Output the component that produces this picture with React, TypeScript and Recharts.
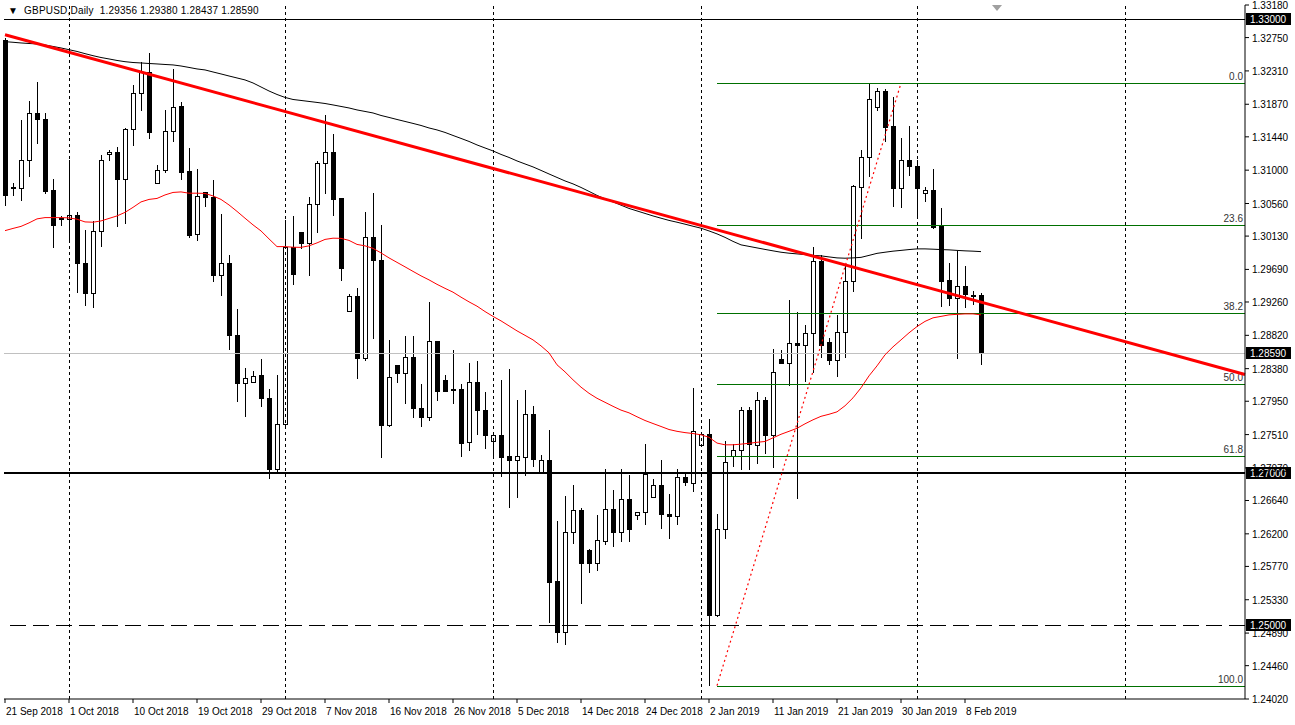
import React from 'react';
import { ComposedChart, Bar, Line, XAxis, YAxis, ReferenceLine } from 'recharts';

// GBPUSD daily candles, one per trading slot (Sunday bars included)
const opens = [
  1.3272, 1.3078, 1.3076, 1.3114, 1.3176, 1.3168, 1.3074, 1.3037, 1.3035, 1.3041,
  1.2978, 1.2938, 1.3020, 1.3121, 1.3124, 1.3089, 1.3154, 1.3202, 1.3230, 1.3083,
  1.3100, 1.3152, 1.3185, 1.3099, 1.3016, 1.3071, 1.3065, 1.2962, 1.2977, 1.2883,
  1.2819, 1.2821, 1.2829, 1.2799, 1.2706, 1.2765, 1.2999, 1.3019, 1.3004, 1.3055,
  1.3110, 1.3124, 1.3063, 1.2914, 1.2934, 1.2852, 1.3012, 1.2981, 1.2763, 1.2843,
  1.2832, 1.2853, 1.2786, 1.2774, 1.2874, 1.2823, 1.2811, 1.2811, 1.2741, 1.2820,
  1.2784, 1.2742, 1.2751, 1.2723, 1.2717, 1.2722, 1.2778, 1.2702, 1.2718, 1.2558,
  1.2490, 1.2622, 1.2652, 1.2599, 1.2582, 1.2611, 1.2653, 1.2623, 1.2666, 1.2645,
  1.2649, 1.2669, 1.2684, 1.2646, 1.2643, 1.2695, 1.2687, 1.2737, 1.2752, 1.2513,
  1.2626, 1.2723, 1.2730, 1.2783, 1.2737, 1.2797, 1.2750, 1.2851, 1.2845, 1.2872,
  1.2869, 1.2885, 1.2980, 1.2873, 1.2850, 1.2887, 1.2954, 1.3078, 1.3117, 1.3183,
  1.3205, 1.3158, 1.3077, 1.3114, 1.3106, 1.3070, 1.3074, 1.3026, 1.2955, 1.2931,
  1.2947, 1.2935, 1.29356,
];
const highs = [
  1.3275, 1.3083, 1.3166, 1.3191, 1.3216, 1.3175, 1.3088, 1.3039, 1.3113, 1.3045,
  1.3021, 1.3033, 1.3120, 1.3127, 1.3131, 1.3155, 1.3213, 1.3243, 1.3254, 1.3107,
  1.3180, 1.3234, 1.3190, 1.3129, 1.3102, 1.3071, 1.3087, 1.3042, 1.2988, 1.2917,
  1.2839, 1.2835, 1.2851, 1.2811, 1.2829, 1.3034, 1.3039, 1.3019, 1.3065, 1.3112,
  1.3173, 1.3148, 1.3063, 1.2937, 1.2944, 1.3045, 1.3070, 1.3028, 1.2876, 1.2843,
  1.2881, 1.2881, 1.2818, 1.2926, 1.2874, 1.2830, 1.2862, 1.2818, 1.2845, 1.2848,
  1.2807, 1.2751, 1.2823, 1.2837, 1.2797, 1.2810, 1.2789, 1.2724, 1.2757, 1.2637,
  1.2670, 1.2685, 1.2654, 1.2600, 1.2645, 1.2705, 1.2678, 1.2705, 1.2697, 1.2649,
  1.2738, 1.2693, 1.2718, 1.2673, 1.2705, 1.2702, 1.2812, 1.2752, 1.2771, 1.2646,
  1.2743, 1.2738, 1.2788, 1.2788, 1.2807, 1.2800, 1.2864, 1.2862, 1.2928, 1.2913,
  1.2895, 1.2999, 1.2988, 1.2878, 1.2909, 1.2973, 1.3080, 1.3126, 1.3215, 1.3208,
  1.3207, 1.3197, 1.3142, 1.3158, 1.3114, 1.3078, 1.3102, 1.3050, 1.2978, 1.2993,
  1.2974, 1.2940, 1.29380,
];
const lows = [
  1.3054, 1.3067, 1.3061, 1.3092, 1.3136, 1.3070, 1.2998, 1.3027, 1.3007, 1.2939,
  1.2922, 1.2920, 1.3000, 1.3114, 1.3026, 1.3030, 1.3133, 1.3179, 1.3143, 1.3083,
  1.3098, 1.3138, 1.3089, 1.3012, 1.3008, 1.3053, 1.2954, 1.2935, 1.2864, 1.2795,
  1.2775, 1.2820, 1.2789, 1.2694, 1.2700, 1.2764, 1.2950, 1.2997, 1.2961, 1.3018,
  1.3070, 1.3041, 1.2955, 1.2914, 1.2826, 1.2850, 1.2879, 1.2721, 1.2762, 1.2821,
  1.2793, 1.2774, 1.2762, 1.2770, 1.2796, 1.2808, 1.2793, 1.2723, 1.2730, 1.2752,
  1.2733, 1.2722, 1.2696, 1.2656, 1.2669, 1.2697, 1.2709, 1.2701, 1.2504, 1.2477,
  1.2475, 1.2608, 1.2529, 1.2570, 1.2572, 1.2607, 1.2604, 1.2611, 1.2611, 1.2639,
  1.2633, 1.2668, 1.2628, 1.2614, 1.2633, 1.2685, 1.2677, 1.2737, 1.2420, 1.2512,
  1.2614, 1.2709, 1.2705, 1.2706, 1.2713, 1.2727, 1.2708, 1.2845, 1.2816, 1.2667,
  1.2822, 1.2833, 1.2854, 1.2844, 1.2828, 1.2853, 1.2940, 1.3010, 1.3092, 1.3180,
  1.3138, 1.3053, 1.3052, 1.3094, 1.3039, 1.3059, 1.3024, 1.2921, 1.2922, 1.2852,
  1.2919, 1.2923, 1.28437,
];
const closes = [
  1.3067, 1.3077, 1.3114, 1.3176, 1.3167, 1.3073, 1.3027, 1.3035, 1.3041, 1.2977,
  1.2938, 1.3020, 1.3114, 1.3124, 1.3089, 1.3154, 1.3202, 1.3230, 1.3150, 1.3100,
  1.3152, 1.3184, 1.3098, 1.3015, 1.3066, 1.3064, 1.2962, 1.2977, 1.2882, 1.2819,
  1.2826, 1.2828, 1.2799, 1.2706, 1.2765, 1.2999, 1.2963, 1.3004, 1.3055, 1.3110,
  1.3124, 1.3062, 1.2971, 1.2934, 1.2852, 1.3012, 1.2981, 1.2763, 1.2827, 1.2832,
  1.2853, 1.2786, 1.2774, 1.2874, 1.2809, 1.2809, 1.2810, 1.2740, 1.2820, 1.2783,
  1.2751, 1.2751, 1.2722, 1.2717, 1.2723, 1.2778, 1.2719, 1.2717, 1.2557, 1.2490,
  1.2622, 1.2652, 1.2582, 1.2581, 1.2612, 1.2653, 1.2623, 1.2666, 1.2626, 1.2649,
  1.2699, 1.2684, 1.2646, 1.2643, 1.2695, 1.2688, 1.2756, 1.2752, 1.2513, 1.2626,
  1.2715, 1.2730, 1.2783, 1.2738, 1.2796, 1.2750, 1.2834, 1.2845, 1.2872, 1.2869,
  1.2885, 1.2980, 1.2869, 1.2849, 1.2887, 1.2954, 1.3079, 1.3117, 1.3194, 1.3205,
  1.3157, 1.3077, 1.3114, 1.3105, 1.3077, 1.3074, 1.3025, 1.2954, 1.2931, 1.2947,
  1.2936, 1.2934, 1.28590,
];

// thin red moving average
const maRed = [
  1.30202, 1.30231, 1.30258, 1.30304, 1.30357, 1.30374, 1.30374, 1.30374, 1.30370, 1.30353,
  1.30317, 1.30313, 1.30330, 1.30363, 1.30396, 1.30443, 1.30509, 1.30581, 1.30614, 1.30627,
  1.30673, 1.30706, 1.30713, 1.30696, 1.30696, 1.30693, 1.30660, 1.30614, 1.30541, 1.30456,
  1.30366, 1.30278, 1.30198, 1.30093, 1.29991, 1.29991, 1.29983, 1.29981, 1.30001, 1.30040,
  1.30086, 1.30102, 1.30100, 1.30073, 1.30020, 1.30001, 1.29968, 1.29908, 1.29842, 1.29783,
  1.29724, 1.29664, 1.29605, 1.29552, 1.29493, 1.29440, 1.29390, 1.29324, 1.29262, 1.29205,
  1.29134, 1.29070, 1.29011, 1.28945, 1.28879, 1.28820, 1.28760, 1.28681, 1.28589, 1.28431,
  1.28338, 1.28233, 1.28136, 1.28055, 1.27989, 1.27936, 1.27883, 1.27833, 1.27797, 1.27745,
  1.27696, 1.27656, 1.27617, 1.27577, 1.27553, 1.27536, 1.27524, 1.27507, 1.27474, 1.27398,
  1.27375, 1.27375, 1.27384, 1.27395, 1.27408, 1.27419, 1.27467, 1.27514, 1.27553, 1.27593,
  1.27652, 1.27705, 1.27751, 1.27778, 1.27810, 1.27890, 1.27995, 1.28127, 1.28285, 1.28417,
  1.28563, 1.28668, 1.28760, 1.28853, 1.28936, 1.29004, 1.29051, 1.29070, 1.29090, 1.29097,
  1.29103, 1.29103, 1.29090,
];

// thin black moving average
const maBlack = [
  1.32696, 1.32688, 1.32679, 1.32672, 1.32666, 1.32652, 1.32633, 1.32613, 1.32590, 1.32567,
  1.32538, 1.32511, 1.32487, 1.32468, 1.32448, 1.32432, 1.32421, 1.32415, 1.32408, 1.32402,
  1.32395, 1.32389, 1.32375, 1.32356, 1.32336, 1.32323, 1.32296, 1.32270, 1.32243, 1.32217,
  1.32191, 1.32151, 1.32098, 1.32045, 1.31999, 1.31960, 1.31933, 1.31920, 1.31907, 1.31894,
  1.31880, 1.31861, 1.31841, 1.31821, 1.31795, 1.31775, 1.31755, 1.31722, 1.31696, 1.31669,
  1.31643, 1.31617, 1.31590, 1.31557, 1.31531, 1.31498, 1.31458, 1.31419, 1.31379, 1.31333,
  1.31293, 1.31254, 1.31208, 1.31168, 1.31122, 1.31082, 1.31043, 1.30997, 1.30950, 1.30904,
  1.30858, 1.30819, 1.30772, 1.30720, 1.30667, 1.30621, 1.30581, 1.30538, 1.30495, 1.30462,
  1.30429, 1.30396, 1.30366, 1.30337, 1.30313, 1.30287, 1.30260, 1.30234, 1.30198, 1.30159,
  1.30113, 1.30060, 1.30014, 1.29994, 1.29974, 1.29954, 1.29935, 1.29917, 1.29904, 1.29895,
  1.29886, 1.29875, 1.29869, 1.29855, 1.29842, 1.29838, 1.29842, 1.29849, 1.29875, 1.29902,
  1.29917, 1.29931, 1.29941, 1.29952, 1.29961, 1.29961, 1.29957, 1.29952, 1.29948, 1.29941,
  1.29935, 1.29931, 1.29925,
];

const slotCount = 156; // bars plus empty space on the right
const dateTicks = [0, 8, 16, 24, 32, 40, 48, 56, 64, 72, 80, 88, 96, 104, 112, 120];
const dateLabels = [
  '21 Sep 2018', '1 Oct 2018', '10 Oct 2018', '19 Oct 2018', '29 Oct 2018', '7 Nov 2018',
  '16 Nov 2018', '26 Nov 2018', '5 Dec 2018', '14 Dec 2018', '24 Dec 2018', '2 Jan 2019',
  '11 Jan 2019', '21 Jan 2019', '30 Jan 2019', '8 Feb 2019',
];
const monthSeparators = [8, 35, 61, 87, 114, 140];

const priceTicks = [
  1.3318, 1.3275, 1.3231, 1.3187, 1.3144, 1.31, 1.3056, 1.3013, 1.2969, 1.2926, 1.2882,
  1.2838, 1.2795, 1.2751, 1.2707, 1.2664, 1.262, 1.2577, 1.2533, 1.2489, 1.2446, 1.2402,
];

const trendPoints = [{ i: 0, v: 1.32788 }, { i: 155, v: 1.28303 }];
const fibStart = { i: 89, v: 1.24196 };
const fibEnd = { i: 112, v: 1.32147 };
const fibLevels = [0, 23.6, 38.2, 50, 61.8, 100];

const lastQuote = { o: 1.29356, h: 1.2938, l: 1.28437, c: 1.2859 };
const levelLines = [1.33, 1.27, 1.25];

const FONT = '"Liberation Sans", Arial, sans-serif';

const data = Array.from({ length: slotCount }, (_, i) => {
  const row: any = { i };
  if (i < opens.length) {
    row.o = opens[i];
    row.h = highs[i];
    row.l = lows[i];
    row.c = closes[i];
    row.range = [lows[i], highs[i]];
    row.maRed = maRed[i];
    row.maBlack = maBlack[i];
  }
  const tp = trendPoints.find((p) => p.i === i);
  row.trend = tp ? tp.v : null;
  row.fib = i === fibStart.i ? fibStart.v : i === fibEnd.i ? fibEnd.v : null;
  return row;
});

const Candle = (props: any) => {
  const { x, y, width, height, payload } = props;
  if (!payload || payload.o == null) return null;
  const { o, h, l, c } = payload;
  const ratio = h > l ? height / (h - l) : 0;
  const yAt = (v: number) => Math.round(y + (h - v) * ratio);
  const cx = Math.round(x + width / 2) + 0.5;
  const top = yAt(Math.max(o, c));
  const bot = yAt(Math.min(o, c));
  const bull = c > o;
  return (
    <g>
      <line x1={cx} x2={cx} y1={yAt(h)} y2={yAt(l) + 1} stroke="#000" strokeWidth={1} />
      {bot - top < 1 ? (
        <line x1={cx - 2.5} x2={cx + 2.5} y1={top + 0.5} y2={top + 0.5} stroke="#000" strokeWidth={1} />
      ) : (
        <rect x={cx - 2} y={top + 0.5} width={4} height={bot - top} fill={bull ? '#fff' : '#000'} stroke="#000" strokeWidth={1} />
      )}
    </g>
  );
};

// snap horizontal / vertical guide lines to whole pixels so they stay sharp
const CrispLine = (p: any) => {
  const odd = (p.strokeWidth || 1) % 2 === 1 ? 0.5 : 0;
  const horiz = Math.abs(p.y1 - p.y2) < 0.01;
  const x1 = horiz ? p.x1 : Math.round(p.x1) + odd;
  const x2 = horiz ? p.x2 : Math.round(p.x2) + odd;
  const y1 = horiz ? Math.round(p.y1) + odd : p.y1;
  const y2 = horiz ? Math.round(p.y2) + odd : p.y2;
  return (
    <line x1={x1} x2={x2} y1={y1} y2={y2} stroke={p.stroke} strokeWidth={p.strokeWidth} strokeDasharray={p.strokeDasharray} />
  );
};

const PriceTick = ({ x, y, payload }: any) => (
  <text x={x} y={y} dy={4} fontSize={10} fontFamily={FONT} fill="#000" textAnchor="start">
    {Number(payload.value).toFixed(5)}
  </text>
);

const DateTick = ({ x, y, payload }: any) => {
  const k = dateTicks.indexOf(payload.value);
  return (
    <text x={x + 1} y={y} dy={10} fontSize={10} fontFamily={FONT} fill="#000" textAnchor="start">
      {k >= 0 ? dateLabels[k] : ''}
    </text>
  );
};

const priceBox = (value: number) => (props: any) => {
  const vb = props.viewBox || {};
  const xr = vb.x + vb.width;
  return (
    <g>
      <rect x={xr + 1} y={Math.round(vb.y) - 6} width={45} height={12} fill="#000" />
      <text x={xr + 5} y={Math.round(vb.y) + 4} fontSize={10} fontFamily={FONT} fill="#fff">
        {value.toFixed(5)}
      </text>
    </g>
  );
};

const fibLabel = (lvl: number) => (props: any) => {
  const vb = props.viewBox || {};
  return (
    <text x={vb.x + vb.width - 2} y={Math.round(vb.y) - 3} fontSize={10} fontFamily={FONT} fill="#333" textAnchor="end">
      {lvl.toFixed(1)}
    </text>
  );
};

export default function App() {
  const fibRange = fibEnd.v - fibStart.v;
  return (
    <div style={{ position: 'absolute', left: 0, top: 0, width: 1295, height: 725, background: '#fff' }}>
      <ComposedChart
        width={1295}
        height={725}
        data={data}
        margin={{ top: 5, right: 0, bottom: 0, left: 4 }}
      >
        <XAxis
          dataKey="i"
          type="category"
          height={26}
          padding={{ left: -3, right: -4 }}
          ticks={dateTicks}
          interval={0}
          tick={<DateTick />}
          tickSize={4}
          tickMargin={2}
          stroke="#000"
        />
        <XAxis xAxisId="top" dataKey="i" orientation="top" height={0} tick={false} tickLine={false} stroke="#808080" />
        <YAxis
          orientation="right"
          width={50}
          type="number"
          domain={[1.2402, 1.3318]}
          allowDataOverflow
          ticks={priceTicks}
          interval={0}
          tick={<PriceTick />}
          tickSize={4}
          tickMargin={3}
          stroke="#000"
        />
        <YAxis yAxisId="frame" orientation="left" width={0} type="number" domain={[0, 1]} tick={false} tickLine={false} stroke="#808080" />

        {monthSeparators.map((m) => (
          <ReferenceLine key={'sep' + m} x={m} stroke="#000" strokeDasharray="3 3" strokeWidth={1} shape={CrispLine} />
        ))}
        <ReferenceLine y={lastQuote.c} stroke="#c0c0c0" strokeWidth={1} shape={CrispLine} />
        <ReferenceLine y={levelLines[0]} stroke="#000" strokeWidth={1} shape={CrispLine} />
        <ReferenceLine y={levelLines[1]} stroke="#000" strokeWidth={2} shape={CrispLine} />
        <ReferenceLine y={levelLines[2]} stroke="#000" strokeWidth={1} strokeDasharray="16 7" shape={CrispLine} />

        {fibLevels.map((lvl) => {
          const v = fibEnd.v - (fibRange * lvl) / 100;
          return (
            <ReferenceLine
              key={'fib' + lvl}
              segment={[{ x: fibStart.i, y: v }, { x: slotCount - 1, y: v }]}
              stroke="#007000"
              strokeWidth={1}
              shape={CrispLine}
              label={fibLabel(lvl)}
            />
          );
        })}

        <Bar dataKey="range" shape={<Candle />} isAnimationActive={false} />
        <Line dataKey="maRed" stroke="#ff0000" strokeWidth={1} dot={false} activeDot={false} type="linear" isAnimationActive={false} />
        <Line dataKey="maBlack" stroke="#000" strokeWidth={1} dot={false} activeDot={false} type="linear" isAnimationActive={false} />
        <Line dataKey="trend" stroke="#ff0000" strokeWidth={3} dot={false} activeDot={false} connectNulls type="linear" isAnimationActive={false} />
        <Line dataKey="fib" stroke="#ff0000" strokeWidth={1.2} strokeDasharray="2 3" dot={false} activeDot={false} connectNulls type="linear" isAnimationActive={false} />

        <ReferenceLine y={levelLines[0]} stroke="none" label={priceBox(levelLines[0])} />
        <ReferenceLine y={lastQuote.c} stroke="none" label={priceBox(lastQuote.c)} />
        <ReferenceLine y={levelLines[1]} stroke="none" label={priceBox(levelLines[1])} />
        <ReferenceLine y={levelLines[2]} stroke="none" label={priceBox(levelLines[2])} />
      </ComposedChart>
      <div style={{ position: 'absolute', left: 8, top: 5, fontFamily: FONT, fontSize: 10, letterSpacing: 0.2, color: '#000', whiteSpace: 'pre', lineHeight: '12px' }}>
        {'\u25BC  GBPUSD,Daily  ' + [lastQuote.o, lastQuote.h, lastQuote.l, lastQuote.c].map((v) => v.toFixed(5)).join(' ')}
      </div>
      <div style={{ position: 'absolute', left: 992, top: 5, width: 0, height: 0, borderLeft: '5px solid transparent', borderRight: '5px solid transparent', borderTop: '6px solid #a0a0a0' }} />
    </div>
  );
}
